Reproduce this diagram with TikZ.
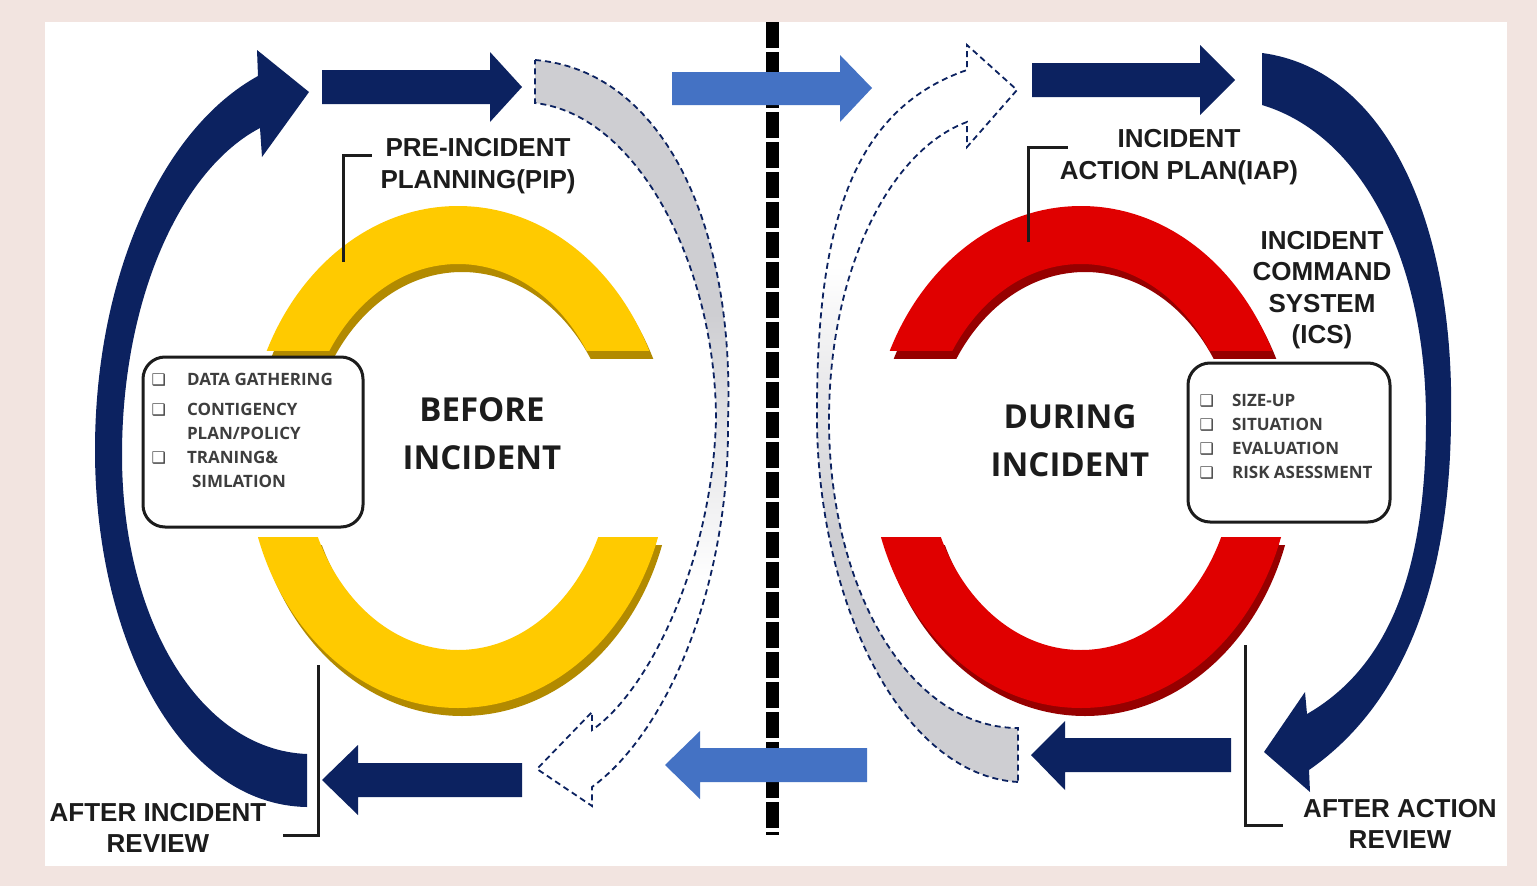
\documentclass[tikz,border=0pt]{standalone}
\usepackage{fontspec}
\newfontfamily\labelfont{Liberation Sans}
\newfontfamily\headfont{Open Sans}
\newfontfamily\boxsym{DejaVu Sans}
\usetikzlibrary{positioning}

\definecolor{navy}{RGB}{12,34,96}
\definecolor{lightblue}{RGB}{68,114,196}
\definecolor{ringyellow}{RGB}{255,202,0}
\definecolor{ringgold}{RGB}{178,138,0}
\definecolor{ringred}{RGB}{224,0,0}
\definecolor{ringdark}{RGB}{150,0,0}
\definecolor{fadegray}{RGB}{206,206,210}
\definecolor{bgpink}{RGB}{242,228,224}
\definecolor{textdark}{RGB}{28,28,28}
\definecolor{itemgray}{RGB}{62,62,62}

\pgfdeclareverticalshading{grayfade}{100bp}{color(0bp)=(white); color(40bp)=(white);
  color(58bp)=(fadegray); color(100bp)=(fadegray)}

\newcommand{\cbox}{{\boxsym\fontsize{16}{16}\selectfont ❑}}

% one half of a ring: centre x, from y, to y, colour
\newcommand{\ringpart}[4]{%
  \begin{scope}
    \clip (#1-230,#2) rectangle (#1+230,#3);
    \fill[#4,even odd rule] (#1,457) ellipse[x radius=211pt,y radius=251pt]
      (#1,457) ellipse[x radius=154pt,y radius=193pt];
  \end{scope}}

\begin{document}
\begin{tikzpicture}[x=1pt,y=-1pt,
    lbltext/.style={font=\labelfont\bfseries\fontsize{26}{31.5}\selectfont,
      text=textdark,align=center,inner sep=0pt},
    phasetext/.style={font=\headfont\bfseries\fontsize{33}{48}\selectfont,
      text=textdark,align=center,inner sep=0pt},
    listbox/.style={draw=textdark,line width=3pt,rounded corners=22pt,
      fill=white,inner sep=0pt},
    listtext/.style={font=\headfont\bfseries\fontsize{17}{24}\selectfont,
      text=itemgray,inner sep=0pt,anchor=north west},
    bracketline/.style={draw=textdark,line width=3pt},
    dasharrow/.style={draw=navy,line width=1.8pt,dash pattern=on 6pt off 4pt,
      shading=grayfade}]
  \useasboundingbox (0,0) rectangle (1537,886);
  \fill[bgpink] (0,0) rectangle (1537,886);
  \fill[white] (45,22) rectangle (1507,866);

  % divider
  \draw[line width=13pt,dash pattern=on 26pt off 4pt] (772,22) -- (772,835);

  % rings
  \begin{scope}[shift={(4,8)}]
    \ringpart{458}{0}{350}{ringgold}
    \ringpart{458}{537}{886}{ringgold}
    \ringpart{1081}{0}{350}{ringdark}
    \ringpart{1081}{537}{886}{ringdark}
  \end{scope}
  \ringpart{458}{0}{350}{ringyellow}
  \ringpart{458}{537}{886}{ringyellow}
  \ringpart{1081}{0}{350}{ringred}
  \ringpart{1081}{537}{886}{ringred}

  % straight arrows
  \fill[navy] (322,70) -- (490,70) -- (490,52) -- (522,87) -- (490,122)
    -- (490,104) -- (322,104) -- cycle;
  \fill[lightblue] (672,72) -- (840,72) -- (840,55) -- (872,88) -- (840,122)
    -- (840,105) -- (672,105) -- cycle;
  \fill[navy] (1032,63) -- (1200,63) -- (1200,45) -- (1235,80) -- (1200,115)
    -- (1200,97) -- (1032,97) -- cycle;
  \fill[navy] (522,763) -- (358,763) -- (358,745) -- (322,780) -- (358,815)
    -- (358,797) -- (522,797) -- cycle;
  \fill[lightblue] (867,748) -- (700,748) -- (700,731) -- (665,765) -- (700,799)
    -- (700,782) -- (867,782) -- cycle;
  \fill[navy] (1231,738) -- (1065,738) -- (1065,721) -- (1031,755) -- (1065,790)
    -- (1065,772) -- (1231,772) -- cycle;

  % big curved arrows
  \fill[navy] (307,754) .. controls (200,750) and (122,620) .. (122,455)
    .. controls (122,300) and (180,170) .. (260,128)
    -- (262,157) -- (309,92) -- (257,50) -- (258,76)
    .. controls (160,130) and (95,280) .. (95,450)
    .. controls (95,640) and (180,805) .. (307,807) -- cycle;
  \fill[navy] (1262,53) .. controls (1390,70) and (1455,230) .. (1451,420)
    .. controls (1450,570) and (1410,700) .. (1309,770)
    -- (1310,792) -- (1264,752) -- (1305,692) -- (1307,714)
    .. controls (1392,665) and (1426,565) .. (1426,420)
    .. controls (1426,260) and (1362,135) .. (1262,105) -- cycle;

  % dashed curved arrows
  \shadedraw[dasharrow] (535,60) .. controls (660,70) and (735,220) .. (728,420)
    .. controls (730,580) and (670,730) .. (592,787)
    -- (592,806) -- (537,769) -- (592,712) -- (592,730)
    .. controls (650,690) and (712,560) .. (716,420)
    .. controls (716,270) and (640,115) .. (535,103) -- cycle;
  \shadedraw[dasharrow,shading angle=180] (1018,782)
    .. controls (900,775) and (818,600) .. (817,420)
    .. controls (816,230) and (850,110) .. (967,70)
    -- (967,45) -- (1017,90) -- (967,147) -- (967,122)
    .. controls (890,150) and (829,270) .. (829,420)
    .. controls (829,590) and (910,728) .. (1018,728) -- cycle;

  % boxes
  \node[listbox,minimum width=220pt,minimum height=170pt] (pipbox) at (253,442) {};
  \node[listtext] (piplist) at ([xshift=10pt,yshift=-13pt]pipbox.north west)
    {\begin{tabular}{@{}l@{\hspace{21pt}}l@{}}
      \cbox & DATA GATHERING\\[6pt]
      \cbox & CONTIGENCY\\
            & PLAN/POLICY\\
      \cbox & TRANING\&\\
            & \hspace{5pt}SIMLATION
    \end{tabular}};
  \node[listbox,minimum width=202pt,minimum height=159pt] (icsbox) at (1289,442.5) {};
  \node[listtext] (icslist) at ([xshift=13pt,yshift=-28pt]icsbox.north west)
    {\begin{tabular}{@{}l@{\hspace{18pt}}l@{}}
      \cbox & SIZE-UP\\
      \cbox & SITUATION\\
      \cbox & EVALUATION\\
      \cbox & RISK ASESSMENT
    \end{tabular}};

  % phase titles
  \node[phasetext] (before) at (482,434) {BEFORE\\INCIDENT};
  \node[phasetext] (during) at (1070,441) {DURING\\INCIDENT};

  % labels and brackets
  \node[lbltext] (pip) at (478,166) {PRE-INCIDENT\\PLANNING(PIP)};
  \node[lbltext] (iap) at (1179,157) {INCIDENT\\ACTION PLAN(IAP)};
  \node[lbltext] (ics) at (1322,290) {INCIDENT\\COMMAND\\SYSTEM\\(ICS)};
  \node[lbltext] (air) at (158,828) {AFTER INCIDENT\\REVIEW};
  \node[lbltext] (aar) at (1400,824) {AFTER ACTION\\REVIEW};

  \coordinate (pipfoot) at (343,262);
  \coordinate (pipbar) at (372,155);
  \coordinate (iapfoot) at (1028,242);
  \coordinate (iapbar) at (1068,147);
  \coordinate (airfoot) at (318,665);
  \coordinate (airbar) at (283,835);
  \coordinate (aarfoot) at (1245,645);
  \coordinate (aarbar) at (1283,825);
  \draw[bracketline] (pipfoot) |- (pipbar);
  \draw[bracketline] (iapfoot) |- (iapbar);
  \draw[bracketline] (airfoot) |- (airbar);
  \draw[bracketline] (aarfoot) |- (aarbar);
\end{tikzpicture}
\end{document}
